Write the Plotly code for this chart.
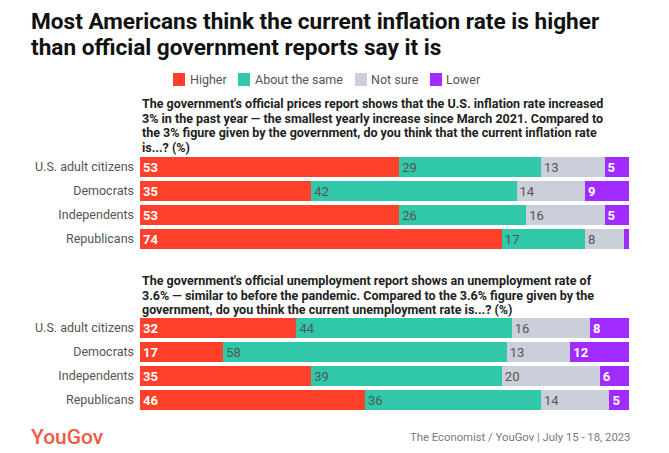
import plotly.graph_objects as go

W, H = 669, 453

groups = ["U.S. adult citizens", "Democrats", "Independents", "Republicans"]
series_names = ["Higher", "About the same", "Not sure", "Lower"]
colors = ["#ff412c", "#30c8a8", "#cacfd9", "#a22cff"]

inflation_higher = [53, 35, 53, 74]
inflation_same = [29, 42, 26, 17]
inflation_notsure = [13, 14, 16, 8]
inflation_lower = [5, 9, 5, 1]

unemp_higher = [32, 17, 35, 46]
unemp_same = [44, 58, 39, 36]
unemp_notsure = [16, 13, 20, 14]
unemp_lower = [8, 12, 6, 5]

title_lines = ["Most Americans think the current inflation rate is higher",
               "than official government reports say it is"]
q1_lines = ["The government's official prices report shows that the U.S. inflation rate increased",
            "3% in the past year \u2014 the smallest yearly increase since March 2021. Compared to",
            "the 3% figure given by the government, do you think that the current inflation rate",
            "is...? (%)"]
q2_lines = ["The government's official unemployment report shows an unemployment rate of",
            "3.6% \u2014 similar to before the pandemic. Compared to the 3.6% figure given by the",
            "government, do you think the current unemployment rate is...? (%)"]
source_text = "The Economist / YouGov | July 15 - 18, 2023"
logo_text = "YouGov"

FONT = "Roboto"


def px(x):
    return x / W


def py(y):
    return 1 - y / H


fig = go.Figure()

panels = [
    ([inflation_higher, inflation_same, inflation_notsure, inflation_lower], "x", "y"),
    ([unemp_higher, unemp_same, unemp_notsure, unemp_lower], "x2", "y2"),
]

for vals_list, xa, ya in panels:
    for i, (name, vals) in enumerate(zip(series_names, vals_list)):
        bright = i in (0, 3)
        txt = [str(v) if v >= 3 else "" for v in vals]
        fig.add_trace(go.Bar(
            x=vals, y=groups, orientation="h", name=name,
            marker=dict(color=colors[i], line=dict(width=0)),
            text=txt, texttemplate="%{text}", textposition="inside",
            insidetextanchor="start", constraintext="none", textangle=0,
            textfont=dict(family=FONT, size=13,
                          color="#ffffff" if bright else "#555555",
                          weight=700 if bright else 400),
            xaxis=xa, yaxis=ya, showlegend=False, hoverinfo="skip",
        ))

xdom = [px(140), px(629)]
axis_common_y = dict(type="category", categoryorder="array", categoryarray=groups,
                     autorange="reversed", showgrid=False, zeroline=False, showline=False,
                     ticks="", tickfont=dict(family=FONT, size=12.5, color="#555555"),
                     ticklabelstandoff=5, fixedrange=True)
axis_common_x = dict(range=[0, 100], visible=False, fixedrange=True, domain=xdom)

fig.update_layout(
    width=W, height=H,
    margin=dict(l=0, r=0, t=0, b=0),
    paper_bgcolor="white", plot_bgcolor="white",
    barmode="stack", bargap=4 / 24,
    showlegend=False,
    xaxis=dict(anchor="y", **axis_common_x),
    xaxis2=dict(anchor="y2", **axis_common_x),
    yaxis=dict(anchor="x", domain=[py(251), py(155)], **axis_common_y),
    yaxis2=dict(anchor="x2", domain=[py(412), py(316)], **axis_common_y),
)

annotations = []
for k, line in enumerate(title_lines):
    annotations.append(dict(text="<b>" + line + "</b>", x=px(29), y=py(21.5 + 26 * k),
                            xanchor="left", yanchor="middle", align="left",
                            font=dict(family=FONT, size=22.6, color="#111111")))
for k, line in enumerate(q1_lines):
    annotations.append(dict(text="<b>" + line + "</b>", x=px(140), y=py(103.5 + 14.5 * k),
                            xanchor="left", yanchor="middle", align="left",
                            font=dict(family=FONT, size=12.5, color="#222222")))
for k, line in enumerate(q2_lines):
    annotations.append(dict(text="<b>" + line + "</b>", x=px(140), y=py(280.5 + 14.5 * k),
                            xanchor="left", yanchor="middle", align="left",
                            font=dict(family=FONT, size=12.5, color="#222222")))
annotations += [
    dict(text=logo_text, x=px(29), y=py(437), xanchor="left", yanchor="middle",
         font=dict(family=FONT, size=21, color="#f05a47", weight=500)),
    dict(text=source_text, x=px(632), y=py(437), xanchor="right", yanchor="middle",
         font=dict(family=FONT, size=11.3, color="#7a7a7a")),
]

# legend row
leg_sq_x = [173, 238, 355, 430]
leg_txt_x = [190, 255, 371, 446]
shapes = []
for i, name in enumerate(series_names):
    shapes.append(dict(type="rect", xref="paper", yref="paper",
                       x0=px(leg_sq_x[i]), x1=px(leg_sq_x[i] + 12),
                       y0=py(86), y1=py(73), fillcolor=colors[i], line=dict(width=0)))
    annotations.append(dict(text=name, x=px(leg_txt_x[i] - 2), y=py(79.5), xanchor="left",
                            yanchor="middle", showarrow=False,
                            font=dict(family=FONT, size=12.5, color="#555555")))

for a in annotations:
    a.setdefault("showarrow", False)
    a["xref"] = "paper"
    a["yref"] = "paper"

fig.update_layout(annotations=annotations, shapes=shapes)
fig.write_html("out.html", config={"displayModeBar": False},
               post_script="document.body.style.margin='0';document.body.style.padding='0';")
